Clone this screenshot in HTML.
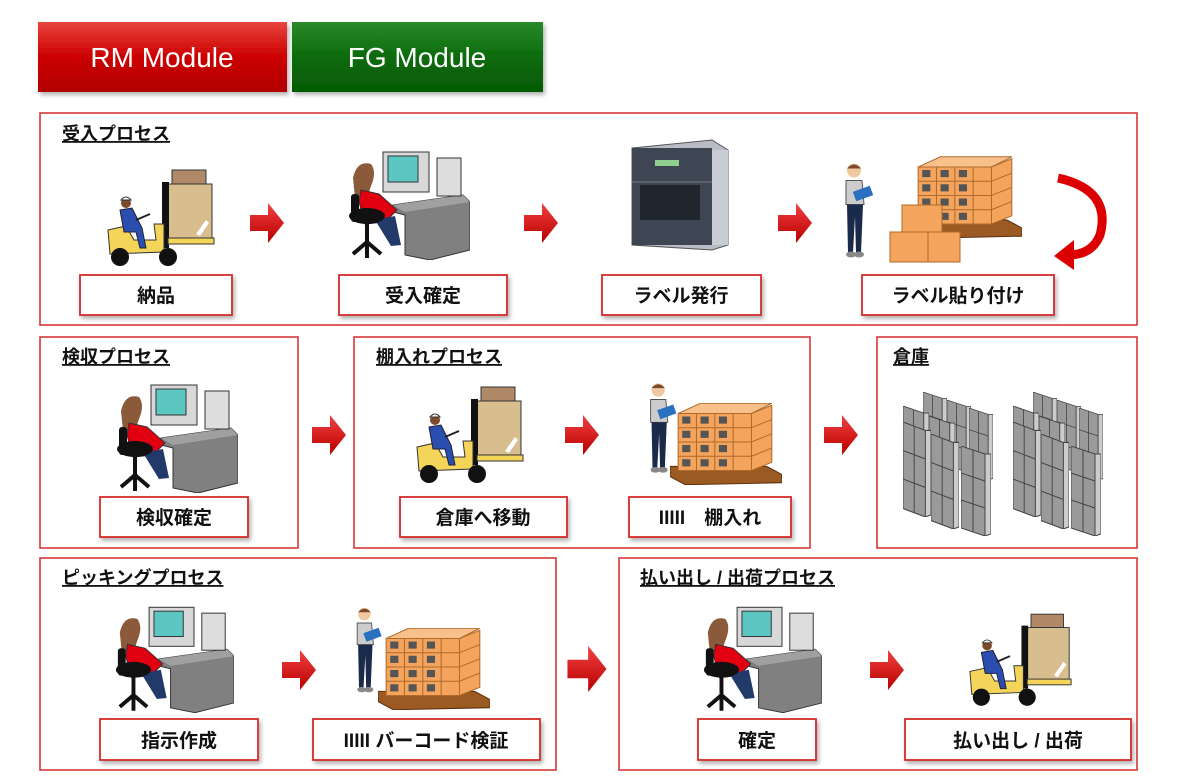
<!DOCTYPE html>
<html><head><meta charset="utf-8"><style>
html,body{margin:0;padding:0;background:#fff;}
svg{display:block}
text{font-family:"Liberation Sans","Noto Sans CJK JP",sans-serif;}
.t{font-weight:bold;font-size:18px;text-decoration:underline;fill:#111}
.l{font-weight:bold;font-size:19px;fill:#111;text-anchor:middle}
.box{fill:none;stroke:#d42a2a;stroke-width:1.5}
.lb{fill:#fff;stroke:#d42a2a;stroke-width:1.8;filter:url(#sh)}
</style></head><body>
<svg width="1182" height="776" viewBox="0 0 1182 776" xmlns="http://www.w3.org/2000/svg">
<defs>
<filter id="sh" x="-10%" y="-10%" width="130%" height="140%"><feDropShadow dx="2" dy="3" stdDeviation="2" flood-color="#000" flood-opacity="0.3"/></filter>
<linearGradient id="rg" x1="0" y1="0" x2="0" y2="1"><stop offset="0" stop-color="#e8453f"/><stop offset="0.5" stop-color="#cc0000"/><stop offset="1" stop-color="#b00000"/></linearGradient>
<linearGradient id="gg" x1="0" y1="0" x2="0" y2="1"><stop offset="0" stop-color="#2a8a2a"/><stop offset="0.5" stop-color="#0b6b0b"/><stop offset="1" stop-color="#055a05"/></linearGradient>
<linearGradient id="ag" x1="0" y1="0" x2="0" y2="1"><stop offset="0" stop-color="#f24040"/><stop offset="1" stop-color="#b80000"/></linearGradient>
<symbol id="arr" viewBox="0 0 34 40"><polygon points="0,12 18,12 18,0 34,20 18,40 18,28 0,28" fill="url(#ag)"/></symbol>
<symbol id="fork" viewBox="0 0 110 100">
<rect x="66" y="2" width="34" height="14" fill="#b08a68" stroke="#333"/>
<rect x="62" y="16" width="44" height="56" fill="#d8bd8e" stroke="#333"/>
<polygon points="90,66 100,52 103,55 94,68" fill="#fff"/>
<rect x="56" y="14" width="7" height="66" fill="#111"/>
<rect x="62" y="70" width="46" height="6" fill="#f5d45a" stroke="#333"/>
<path d="M2,62 L20,58 L28,72 L50,72 L48,56 L58,56 L58,84 L4,86 Z" fill="#f5d45a" stroke="#333"/>
<circle cx="14" cy="89" r="9" fill="#111"/><circle cx="62" cy="89" r="9" fill="#111"/>
<circle cx="20" cy="35" r="5" fill="#7a4a2a"/><path d="M15,32 Q20,26 25,32Z" fill="#fff" stroke="#333"/>
<path d="M14,42 L26,40 L36,60 L40,80 L34,80 L30,64 L18,64 Z" fill="#2a4db0" stroke="#223"/>
<line x1="30" y1="52" x2="44" y2="46" stroke="#222" stroke-width="2"/>
</symbol>
<symbol id="desk" viewBox="0 0 125 110">
<polygon points="48,55 118,45 125,52 125,100 85,110 60,105 60,65 48,62" fill="#808080" stroke="#333"/>
<polygon points="48,55 118,45 125,52 60,62" fill="#a0a0a0"/>
<rect x="38" y="2" width="46" height="40" fill="#d8d8d8" stroke="#333"/>
<rect x="43" y="6" width="30" height="26" fill="#5cc6c2" stroke="#333"/>
<rect x="92" y="8" width="24" height="38" fill="#ddd" stroke="#333"/>
<path d="M8,28 Q12,10 26,14 Q32,22 26,36 L22,48 L10,48 Z" fill="#8a5a3a"/>
<path d="M16,40 L34,44 L52,60 L40,72 L20,74 L14,52 Z" fill="#e00010" stroke="#333"/>
<path d="M30,70 L50,66 L56,95 L46,96 Z" fill="#223a6a"/>
<ellipse cx="22" cy="66" rx="18" ry="8" fill="#111"/>
<rect x="6" y="44" width="8" height="28" rx="3" fill="#111"/>
<path d="M22,72 L22,92 M8,104 L22,92 L36,104 M22,92 L22,108" stroke="#111" stroke-width="4" fill="none"/>
</symbol>
<symbol id="pal" viewBox="0 0 110 80">
<polygon points="0,62 95,62 110,70 110,78 15,80 0,72" fill="#9a5a22" stroke="#5a3010"/>
<polygon points="8,10 80,10 100,2 100,58 80,66 8,66" fill="#f4a45c" stroke="#b06a2a"/>
<polygon points="8,10 30,0 100,0 80,10" fill="#f8c08a" stroke="#b06a2a"/>
<path d="M8,24H80M8,38H80M8,52H80M26,10V66M44,10V66M62,10V66M80,10V66M80,24L100,16M80,38L100,30M80,52L100,44" stroke="#b06a2a" fill="none"/>
<g fill="#555"><rect x="12" y="13" width="8" height="7"/><rect x="30" y="13" width="8" height="7"/><rect x="48" y="13" width="8" height="7"/><rect x="12" y="27" width="8" height="7"/><rect x="30" y="27" width="8" height="7"/><rect x="48" y="27" width="8" height="7"/><rect x="12" y="41" width="8" height="7"/><rect x="30" y="41" width="8" height="7"/><rect x="48" y="41" width="8" height="7"/><rect x="12" y="55" width="8" height="7"/><rect x="30" y="55" width="8" height="7"/><rect x="48" y="55" width="8" height="7"/></g>
</symbol>
<symbol id="man" viewBox="0 0 40 100">
<circle cx="16" cy="10" r="7" fill="#f0c8a0"/><path d="M9,8 Q16,0 23,8 Z" fill="#7a4a2a"/>
<path d="M8,20 L24,20 L26,44 L8,44 Z" fill="#ccc" stroke="#555"/>
<rect x="16" y="28" width="18" height="10" fill="#2a70c0" transform="rotate(-20 25 33)"/>
<path d="M9,44 L25,44 L23,92 L18,92 L17,56 L15,92 L10,92 Z" fill="#1a2a4a"/>
<ellipse cx="13" cy="94" rx="5" ry="3" fill="#888"/><ellipse cx="21" cy="94" rx="5" ry="3" fill="#888"/>
</symbol>
<symbol id="panel" viewBox="0 0 30 90" preserveAspectRatio="none">
<polygon points="0,0 24,8 24,90 0,82" fill="#9a9a9a" stroke="#444"/>
<polygon points="24,8 30,8 30,88 24,90" fill="#ccc" stroke="#444"/>
<path d="M12,4V86M0,27L24,35M0,54L24,62" stroke="#444" fill="none"/>
</symbol>
<symbol id="racks" viewBox="0 0 95 145">
<use href="#panel" x="20" y="0" width="24" height="72"/><use href="#panel" x="44" y="8" width="24" height="72"/><use href="#panel" x="66" y="16" width="24" height="72"/>
<use href="#panel" x="0" y="14" width="26" height="80"/><use href="#panel" x="26" y="24" width="26" height="80"/>
<use href="#panel" x="0" y="30" width="28" height="95"/><use href="#panel" x="28" y="42" width="28" height="95"/><use href="#panel" x="58" y="54" width="30" height="90"/>
</symbol>
</defs>

<rect x="38" y="22" width="249" height="70" fill="url(#rg)" filter="url(#sh)"/>
<text x="162" y="67" text-anchor="middle" fill="#fff" font-size="28">RM Module</text>
<rect x="292" y="22" width="251" height="70" fill="url(#gg)" filter="url(#sh)"/>
<text x="417" y="67" text-anchor="middle" fill="#fff" font-size="28">FG Module</text>

<rect class="box" x="40" y="113" width="1097" height="212"/>
<rect class="box" x="40" y="337" width="258" height="211"/>
<rect class="box" x="354" y="337" width="456" height="211"/>
<rect class="box" x="877" y="337" width="260" height="211"/>
<rect class="box" x="40" y="558" width="516" height="212"/>
<rect class="box" x="619" y="558" width="518" height="212"/>

<text class="t" x="62" y="140">受入プロセス</text>
<text class="t" x="62" y="363">検収プロセス</text>
<text class="t" x="376" y="363">棚入れプロセス</text>
<text class="t" x="893" y="363">倉庫</text>
<text class="t" x="62" y="584">ピッキングプロセス</text>
<text class="t" x="640" y="584">払い出し / 出荷プロセス</text>

<use href="#fork" x="106" y="168" width="110" height="100"/>
<use href="#desk" x="345" y="150" width="125" height="110"/>
<g>
<polygon points="632,148 712,140 728,150 728,245 712,250 632,245" fill="#b8bcc4" stroke="#555"/>
<rect x="632" y="148" width="80" height="97" fill="#3e4654"/>
<rect x="712" y="150" width="16" height="95" fill="#c8ccd4"/>
<rect x="655" y="160" width="24" height="6" fill="#8fd08f"/>
<rect x="640" y="185" width="60" height="35" fill="#20262e"/>
<path d="M632,182H712" stroke="#777"/>
</g>
<use href="#man" x="838" y="158" width="40" height="105"/>
<use href="#pal" x="910" y="155" width="112" height="85"/>
<g fill="#f4a45c" stroke="#b06a2a"><rect x="902" y="205" width="40" height="28"/><rect x="890" y="232" width="38" height="30"/><rect x="928" y="232" width="32" height="30"/></g>
<path d="M1058,178 Q1112,190 1100,235 Q1092,255 1068,255" fill="none" stroke="#d00" stroke-width="9"/>
<polygon points="1054,256 1074,240 1074,270" fill="#d00"/>

<use href="#desk" x="113" y="383" width="125" height="110"/>
<use href="#fork" x="415" y="385" width="110" height="100"/>
<use href="#man" x="643" y="378" width="38" height="100"/>
<use href="#pal" x="670" y="403" width="112" height="82"/>
<use href="#racks" x="903" y="392" width="95" height="145"/>
<use href="#racks" x="1013" y="392" width="95" height="145"/>

<use href="#desk" x="112" y="605" width="122" height="108"/>
<use href="#man" x="350" y="600" width="36" height="100"/>
<use href="#pal" x="378" y="628" width="112" height="82"/>
<use href="#desk" x="700" y="605" width="122" height="108"/>
<use href="#fork" x="968" y="610" width="105" height="100"/>

<use href="#arr" x="250" y="203" width="34" height="40"/>
<use href="#arr" x="524" y="203" width="34" height="40"/>
<use href="#arr" x="778" y="203" width="34" height="40"/>
<use href="#arr" x="312" y="415" width="34" height="40"/>
<use href="#arr" x="565" y="415" width="34" height="40"/>
<use href="#arr" x="824" y="415" width="34" height="40"/>
<use href="#arr" x="282" y="650" width="34" height="40"/>
<use href="#arr" x="566" y="646" width="42" height="46"/>
<use href="#arr" x="870" y="650" width="34" height="40"/>

<rect class="lb" x="80" y="275" width="152" height="40"/><text class="l" x="156" y="302">納品</text>
<rect class="lb" x="339" y="275" width="168" height="40"/><text class="l" x="423" y="302">受入確定</text>
<rect class="lb" x="602" y="275" width="159" height="40"/><text class="l" x="681" y="302">ラベル発行</text>
<rect class="lb" x="862" y="275" width="192" height="40"/><text class="l" x="958" y="302">ラベル貼り付け</text>
<rect class="lb" x="100" y="497" width="148" height="40"/><text class="l" x="174" y="524">検収確定</text>
<rect class="lb" x="400" y="497" width="167" height="40"/><text class="l" x="483" y="524">倉庫へ移動</text>
<rect class="lb" x="629" y="497" width="162" height="40"/><text class="l" x="710" y="524">IIIII　棚入れ</text>
<rect class="lb" x="100" y="719" width="158" height="41"/><text class="l" x="179" y="747">指示作成</text>
<rect class="lb" x="313" y="719" width="227" height="41"/><text class="l" x="426" y="747">IIIII  バーコード検証</text>
<rect class="lb" x="698" y="719" width="118" height="41"/><text class="l" x="757" y="747">確定</text>
<rect class="lb" x="905" y="719" width="226" height="41"/><text class="l" x="1018" y="747">払い出し / 出荷</text>
</svg>
</body></html>
